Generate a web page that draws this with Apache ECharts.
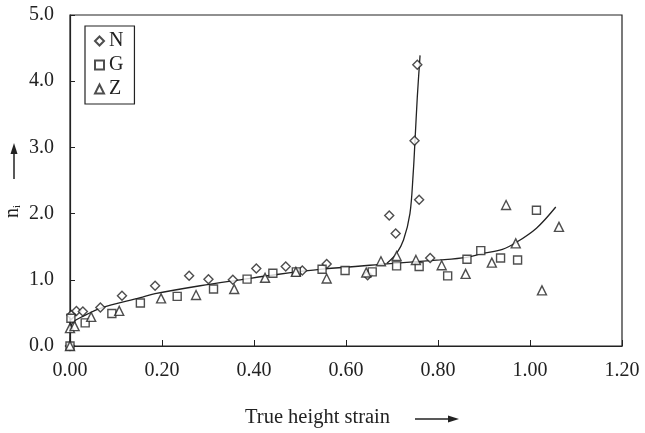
<!DOCTYPE html>
<html>
<head>
<meta charset="utf-8">
<script src="https://cdn.jsdelivr.net/npm/echarts@6/dist/echarts.min.js"></script>
<style>
html,body{margin:0;padding:0;background:#fff;}
#chart{width:645px;height:433px;}
</style>
</head>
<body>
<div id="chart"></div>
<script>
// Data
var seriesNames = ['N', 'G', 'Z'];
var xTicks = [0, 0.2, 0.4, 0.6, 0.8, 1.0, 1.2];
var yTicks = [0, 1, 2, 3, 4, 5];

var nPoints = [[0,0],[0.003,0.47],[0.014,0.53],[0.028,0.52],[0.066,0.58],[0.113,0.76],[0.185,0.91],[0.259,1.06],[0.301,1.01],[0.354,1.00],[0.405,1.17],[0.469,1.20],[0.505,1.14],[0.558,1.24],[0.647,1.07],[0.694,1.97],[0.708,1.70],[0.749,3.10],[0.755,4.25],[0.759,2.21],[0.783,1.33]];
var gPoints = [[0,0],[0.002,0.42],[0.033,0.35],[0.091,0.49],[0.153,0.65],[0.233,0.75],[0.312,0.86],[0.385,1.01],[0.441,1.10],[0.492,1.12],[0.548,1.16],[0.598,1.14],[0.657,1.12],[0.710,1.21],[0.759,1.20],[0.821,1.06],[0.863,1.31],[0.893,1.44],[0.936,1.33],[0.973,1.30],[1.014,2.05]];
var zPoints = [[0,0],[0.0,0.27],[0.01,0.30],[0.046,0.44],[0.107,0.53],[0.198,0.72],[0.274,0.77],[0.357,0.86],[0.424,1.03],[0.491,1.12],[0.558,1.02],[0.644,1.11],[0.676,1.28],[0.710,1.36],[0.752,1.30],[0.808,1.22],[0.860,1.09],[0.917,1.26],[0.948,2.13],[0.969,1.55],[1.026,0.84],[1.063,1.80]];

var mainCurve = [[0,0],[0.002,0.30],[0.008,0.37],[0.023,0.43],[0.066,0.57],[0.153,0.73],[0.185,0.79],[0.283,0.91],[0.37,1.00],[0.45,1.08],[0.548,1.16],[0.689,1.24],[0.804,1.30],[0.862,1.34],[0.893,1.39],[0.94,1.46],[0.969,1.56],[1.014,1.78],[1.056,2.10]];
var nCurve = [[0.689,1.25],[0.71,1.40],[0.725,1.60],[0.739,2.00],[0.746,2.60],[0.750,3.10],[0.755,3.76],[0.761,4.39]];

var FONT = '"Liberation Serif", "DejaVu Serif", serif';
var INK = '#222';

var chart = echarts.init(document.getElementById('chart'), null, {renderer: 'canvas'});

function scatter(name, data, symbol, size) {
  return {
    name: name, type: 'scatter', data: data, symbol: symbol, symbolSize: size,
    itemStyle: {color: '#fff', borderColor: INK, borderWidth: 1.4},
    z: 3
  };
}
function curve(data) {
  return {
    type: 'line', data: data, smooth: 0.35, showSymbol: false, symbol: 'none',
    lineStyle: {color: INK, width: 1.3}, silent: true, z: 2
  };
}

chart.setOption({
  animation: false,
  backgroundColor: '#fff',
  grid: {left: 70, right: 23, top: 15, bottom: 87, show: true, borderColor: INK, borderWidth: 1.2},
  legend: {
    data: seriesNames, orient: 'vertical', left: 85, top: 26,
    borderColor: INK, borderWidth: 1.2, padding: [5, 11, 5, 9],
    itemWidth: 9, itemHeight: 9, itemGap: 4,
    textStyle: {fontFamily: FONT, fontSize: 20, color: INK, lineHeight: 20}
  },
  xAxis: {
    type: 'value', min: xTicks[0], max: xTicks[xTicks.length - 1], interval: 0.2,
    axisLine: {lineStyle: {color: INK, width: 1.2}},
    axisTick: {inside: true, length: 6, lineStyle: {color: INK}},
    splitLine: {show: false},
    axisLabel: {margin: 15, fontFamily: FONT, fontSize: 20, color: INK,
      formatter: function (v) { return v.toFixed(2); }}
  },
  yAxis: {
    type: 'value', min: yTicks[0], max: yTicks[yTicks.length - 1], interval: 1,
    axisLine: {show: true, lineStyle: {color: INK, width: 1.2}},
    axisTick: {show: true, inside: true, length: 5, lineStyle: {color: INK}},
    splitLine: {show: false},
    axisLabel: {margin: 16, fontFamily: FONT, fontSize: 20, color: INK,
      formatter: function (v) { return v.toFixed(1); }}
  },
  graphic: [
    {type: 'text', x: 245, y: 418, style: {text: 'True height strain', fontFamily: FONT, fontSize: 20.5, fill: INK, textVerticalAlign: 'middle'}},
    {type: 'line', shape: {x1: 415, y1: 419, x2: 452, y2: 419}, style: {stroke: INK, lineWidth: 1.5}},
    {type: 'polygon', shape: {points: [[459, 419], [448, 415.5], [448, 422.5]]}, style: {fill: INK}},
    {type: 'text', x: 2, y: 218, rotation: Math.PI / 2,
      style: {text: '{a|n}{b|i}', fontFamily: FONT, fill: INK, textVerticalAlign: 'top',
        rich: {a: {fontFamily: FONT, fontSize: 20, fill: INK}, b: {fontFamily: FONT, fontSize: 11, fill: INK, verticalAlign: 'bottom', padding: [10, 0, 0, 0]}}}},
    {type: 'line', shape: {x1: 14, y1: 179, x2: 14, y2: 152}, style: {stroke: INK, lineWidth: 1.5}},
    {type: 'polygon', shape: {points: [[14, 143], [10.5, 154], [17.5, 154]]}, style: {fill: INK}}
  ],
  series: [
    scatter('N', nPoints, 'diamond', 9),
    scatter('G', gPoints, 'rect', 8),
    scatter('Z', zPoints, 'triangle', 9),
    curve(mainCurve),
    curve(nCurve)
  ]
});
</script>
</body>
</html>
